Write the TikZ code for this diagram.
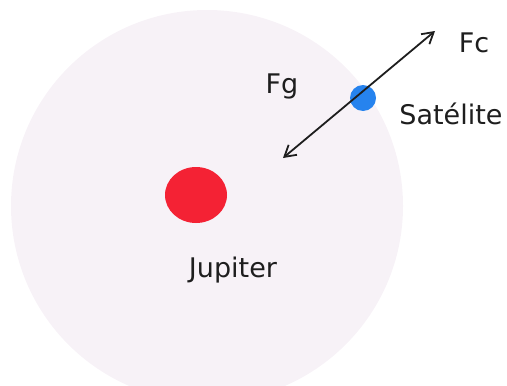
\documentclass[tikz,border=0pt]{standalone}
\usepackage{fontspec}
\setmainfont{DejaVu Sans}
\usetikzlibrary{arrows.meta, shapes.geometric}

\definecolor{orbitpink}{RGB}{247,242,247}
\definecolor{jupred}{RGB}{244,34,52}
\definecolor{satblue}{RGB}{38,131,238}
\definecolor{forcegray}{RGB}{30,30,30}

\begin{document}
\begin{tikzpicture}[
    x=0.5pt, y=-0.5pt,
    every node/.style={font=\fontsize{13.5}{16}\selectfont, text=forcegray},
    lbl/.style={anchor=base},
    >={Straight Barb[length=5.5pt, width=6.5pt]}
]

\useasboundingbox (0,0) rectangle (507,385);

% --- Orbit region (faint) ---
\node[circle, fill=orbitpink, minimum size=196pt, inner sep=0pt] (orbit) at (207,206) {};

% --- Jupiter ---
\node[ellipse, fill=jupred, minimum width=31pt, minimum height=28pt, inner sep=0pt] (jupiter) at (196,195) {};
\node[lbl] (jupiterlbl) at (233,277) {Jupiter};

% --- Satellite and the two forces ---
\coordinate (fgend) at (283,158);
\coordinate (fcend) at (435,31);
\node[circle, fill=satblue, minimum size=13pt, inner sep=0pt] (sat) at (363,98) {};
\draw[<->, line width=0.9pt, forcegray] (fgend) -- (fcend);

\node[lbl] (fglbl) at (282,93) {Fg};
\node[lbl] (fclbl) at (474,53) {Fc};
\node[lbl] (satlbl) at (451,124) {Satélite};

\end{tikzpicture}
\end{document}
